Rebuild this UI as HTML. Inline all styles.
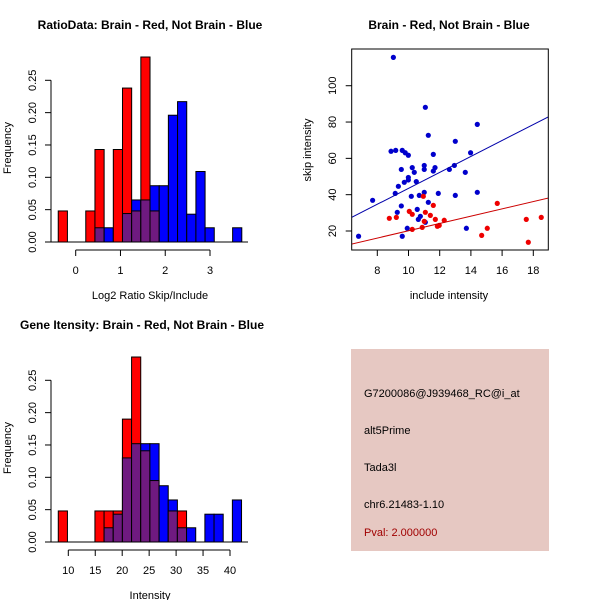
<!DOCTYPE html>
<html><head><meta charset="utf-8"><style>
body{margin:0;background:#fff}
svg{display:block;font-family:"Liberation Sans",Arial,sans-serif}
</style></head><body>
<svg id="c" width="600" height="600" viewBox="0 0 600 600">
<rect x="351" y="349" width="198" height="202" fill="#e6c8c2"/>
<text x="364" y="397" font-size="11">G7200086@J939468_RC@i_at</text>
<text x="364" y="434" font-size="11">alt5Prime</text>
<text x="364" y="471" font-size="11">Tada3l</text>
<text x="364" y="508" font-size="11">chr6.21483-1.10</text>
<text x="364" y="536" font-size="11" fill="#a00000">Pval: 2.000000</text>
</svg>
<script>
// ---- Histogram 1 data (Log2 ratio) ----
const h1Start = -0.39, h1Width = 0.205;
const h1Red  = [0.048,0,0,0.048,0.143,0,0.143,0.238,0.048,0.286,0.048,0,0,0,0,0,0,0,0,0];
const h1Blue = [0,0,0,0,0.022,0.022,0,0.044,0.065,0.065,0.087,0.087,0.196,0.217,0.043,0.109,0.022,0,0,0.022];
const h1XTicks = [0,1,2,3];
const freqTicks = ["0.00","0.05","0.10","0.15","0.20","0.25"];
// ---- Histogram 2 data (Intensity) ----
const h2Start = 8.14, h2Width = 1.70;
const h2Red  = [0.048,0,0,0,0.048,0.048,0.048,0.19,0.286,0.141,0.095,0,0.048,0.048,0,0,0,0,0,0];
const h2Blue = [0,0,0,0,0,0.022,0.043,0.13,0.152,0.152,0.152,0.087,0.065,0.022,0.022,0,0.043,0.043,0,0.065];
const h2XTicks = [10,15,20,25,30,35,40];
// ---- Scatter data ----
const blueX = [9.03,7.70,6.80,8.88,9.18,9.60,9.79,9.99,11.08,11.27,13.0,14.41,13.98,11.59,9.54,10.24,10.37,11.01,11.01,11.70,11.59,12.62,12.94,13.64,9.99,9.99,9.73,10.50,9.35,9.15,10.18,10.69,11.01,11.91,13.00,14.41,11.27,9.54,9.28,10.56,10.76,10.63,11.08,9.92,9.60,13.71];
const blueY = [115.6,36.9,17.1,63.9,64.4,64.4,63.1,61.7,88.1,72.7,69.4,78.7,63.1,62.2,53.9,54.9,52.3,56.1,53.9,54.9,53.0,53.9,56.1,52.3,49.5,48.1,46.8,47.2,44.6,40.7,39.1,39.6,41.3,40.7,39.6,41.3,35.8,33.8,30.3,31.9,28.1,26.4,24.8,21.5,17.1,21.5];
const redX = [8.77,9.22,10.05,10.24,10.95,11.08,11.40,11.59,11.72,11.85,11.97,12.29,10.24,10.88,11.01,14.69,15.05,15.69,17.55,17.68,18.51];
const redY = [27.0,27.5,30.8,29.2,39.1,30.3,28.6,34.1,26.4,22.6,23.1,25.9,20.9,22.0,25.3,17.6,21.5,35.2,26.4,13.8,27.5];
const fitIntercept = [-0.4, 0.03]; // blue, red
const fitSlope = [4.39, 2.01];
const scXTicks = [8,10,12,14,16,18];
const scYTicks = [20,40,60,80,100];

const NS="http://www.w3.org/2000/svg", svg=document.getElementById('c');
function mk(tag,attrs,parent,txt){const e=document.createElementNS(NS,tag);for(const k in attrs)e.setAttribute(k,attrs[k]);if(txt!==undefined)e.textContent=txt;(parent||svg).appendChild(e);return e;}

function hist(oy, start, w, red, blue, xTicks, px0, pxPerUnit, xlab, title, tx, name){
  const g=mk('g',{});
  
  
  const X=v=>px0+(v-xTicks[0])*pxPerUnit;
  const Y=v=>oy+242-v*646.8;
  for(let k=0;k<red.length;k++){
    const x0=X(start+k*w), x1=X(start+(k+1)*w);
    const r=red[k], b=blue[k], mn=Math.min(r,b), mx=Math.max(r,b);
    if(mx>0){
      const bar=mk('rect',{x:x0,y:Y(mx),width:x1-x0,height:Y(0)-Y(mx),fill:r>b?'#ff0000':'#0000ff',stroke:'#000','stroke-width':1},g);
      
      
    }
    if(mn>0){
      const ov=mk('rect',{x:x0,y:Y(mn),width:x1-x0,height:Y(0)-Y(mn),fill:'#6f1a80',stroke:'#000','stroke-width':1},g);
      
      
    }
  }
  mk('line',{x1:51,x2:248,y1:Y(0),y2:Y(0),stroke:'#000'},g);
  mk('line',{x1:51,x2:51,y1:Y(0),y2:Y(0.25),stroke:'#000'},g);
  freqTicks.forEach((t,i)=>{const y=Y(i*0.05);mk('line',{x1:45,x2:51,y1:y,y2:y,stroke:'#000'},g);
    mk('text',{x:36,y:y,'font-size':11,'text-anchor':'middle',transform:`rotate(-90 36 ${y})`},g,t);});
  const ay=oy+250;
  mk('line',{x1:X(xTicks[0]),x2:X(xTicks[xTicks.length-1]),y1:ay,y2:ay,stroke:'#000'},g);
  xTicks.forEach(t=>{const x=X(t);mk('line',{x1:x,x2:x,y1:ay,y2:ay+6,stroke:'#000'},g);
    mk('text',{x:x,y:oy+274,'font-size':11,'text-anchor':'middle'},g,t);});
  const xl=mk('text',{x:150,y:oy+299,'font-size':11,'text-anchor':'middle'},g,xlab);
   
  const yl=mk('text',{x:11,y:oy+148,'font-size':11,'text-anchor':'middle',transform:`rotate(-90 11 ${oy+148})`},g,'Frequency');
   
  const tt=mk('text',{x:tx,y:oy+29,'font-size':12,'font-weight':'bold','text-anchor':'middle'},g,title);
   
}
hist(0,h1Start,h1Width,h1Red,h1Blue,h1XTicks,75.7,44.77,'Log2 Ratio Skip/Include','RatioData: Brain - Red, Not Brain - Blue',150,'ratio-histogram');
hist(300,h2Start,h2Width,h2Red,h2Blue,h2XTicks,68.3,5.39,'Intensity','Gene Itensity: Brain - Red, Not Brain - Blue',142,'intensity-histogram');

(function(){
  const g=mk('g',{});
  
  
  const L=351.7,R=548.3,T=49,B=250;
  const X=v=>377.3+(v-8)*15.6, Y=v=>231-(v-20)*1.816;
  const cp=mk('clipPath',{id:'clp'},g); mk('rect',{x:L,y:T,width:R-L,height:B-T},cp);
  blueX.forEach((x,i)=>{const p=mk('circle',{cx:X(x),cy:Y(blueY[i]),r:2.6,fill:'#0000cc'},g);
     });
  redX.forEach((x,i)=>{const p=mk('circle',{cx:X(x),cy:Y(redY[i]),r:2.6,fill:'#ee0000'},g);
     });
  const cols=['#0000aa','#cc0000'];
  [0,1].forEach(s=>{const x0=5,x1=20;
    const ln=mk('line',{x1:X(x0),x2:X(x1),y1:Y(fitIntercept[s]+fitSlope[s]*x0),y2:Y(fitIntercept[s]+fitSlope[s]*x1),stroke:cols[s],'stroke-width':1,'clip-path':'url(#clp)'},g);
    
    });
  mk('rect',{x:L,y:T,width:R-L,height:B-T,fill:'none',stroke:'#000'},g);
  scXTicks.forEach(t=>{const x=X(t);mk('line',{x1:x,x2:x,y1:B,y2:B+6,stroke:'#000'},g);
    mk('text',{x:x,y:274,'font-size':11,'text-anchor':'middle'},g,t);});
  scYTicks.forEach(t=>{const y=Y(t);mk('line',{x1:L-6,x2:L,y1:y,y2:y,stroke:'#000'},g);
    mk('text',{x:336,y:y,'font-size':11,'text-anchor':'middle',transform:`rotate(-90 336 ${y})`},g,t);});
  const xl=mk('text',{x:449,y:299,'font-size':11,'text-anchor':'middle'},g,'include intensity');
   
  const yl=mk('text',{x:311,y:150,'font-size':11,'text-anchor':'middle',transform:'rotate(-90 311 150)'},g,'skip intensity');
   
  const tt=mk('text',{x:449,y:29,'font-size':12,'font-weight':'bold','text-anchor':'middle'},g,'Brain - Red, Not Brain - Blue');
   
})();
</script>
</body></html>
